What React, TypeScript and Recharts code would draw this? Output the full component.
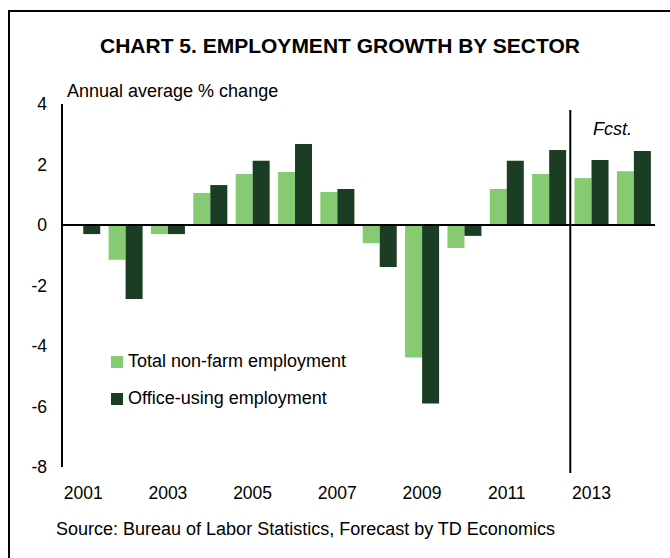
import { BarChart, Bar, XAxis, YAxis, ReferenceLine } from "recharts";

const years = ["2001", "2002", "2003", "2004", "2005", "2006", "2007", "2008", "2009", "2010", "2011", "2012", "2013", "2014"];
const totalNonFarm = [0.0, -1.15, -0.3, 1.06, 1.69, 1.75, 1.09, -0.6, -4.38, -0.76, 1.19, 1.69, 1.55, 1.78];
const officeUsing = [-0.3, -2.45, -0.3, 1.32, 2.12, 2.68, 1.19, -1.39, -5.9, -0.36, 2.12, 2.48, 2.15, 2.45];
const yTicks = [-8, -6, -4, -2, 0, 2, 4];

const LIGHT = "#86cb71";
const DARK = "#1a3d23";
const FONT = "'Liberation Sans', Arial, sans-serif";

const series = [
  { key: "total", name: "Total non-farm employment", color: LIGHT },
  { key: "office", name: "Office-using employment", color: DARK },
];

const data = years.map((year, i) => ({
  year,
  total: totalNonFarm[i],
  office: officeUsing[i],
}));

const App = () => {
  return (
    <div style={{ position: "absolute", left: 0, top: 0, width: 670, height: 558, overflow: "hidden", background: "#fff", fontFamily: FONT }}>
      {/* frame, cut off at right and bottom like the source image */}
      <div style={{ position: "absolute", left: 8, top: 10, width: 700, height: 600, border: "2px solid #000" }} />
      <div style={{ position: "absolute", left: 0, width: 680, top: 34, textAlign: "center", fontSize: 21, fontWeight: "bold", lineHeight: "24px" }}>
        CHART 5. EMPLOYMENT GROWTH BY SECTOR
      </div>
      <div style={{ position: "absolute", left: 67, top: 80, fontSize: 18, lineHeight: "22px" }}>Annual average % change</div>
      <div style={{ position: "absolute", left: 593, top: 118, fontSize: 18, fontStyle: "italic", lineHeight: "22px" }}>Fcst.</div>
      <div style={{ position: "absolute", left: 56, top: 518, fontSize: 18, lineHeight: "22px" }}>
        Source: Bureau of Labor Statistics, Forecast by TD Economics
      </div>
      <div style={{ position: "absolute", left: 0, top: 0 }}>
        <BarChart
          width={670}
          height={558}
          data={data}
          margin={{ top: 104, right: 15, bottom: 0, left: 0 }}
          barCategoryGap="10%"
          barGap={0}
        >
          <XAxis
            dataKey="year"
            axisLine={false}
            tickLine={false}
            tickSize={0}
            tickMargin={20}
            interval={1}
            height={91}
            tick={{ fill: "#000", fontSize: 17.5, fontFamily: FONT }}
          />
          <YAxis
            domain={[-8, 4]}
            ticks={yTicks}
            width={62}
            tickLine={false}
            tickSize={0}
            tickMargin={15}
            axisLine={{ stroke: "#000", strokeWidth: 2 }}
            tick={{ fill: "#000", fontSize: 17.5, fontFamily: FONT }}
          />
          {series.map((s) => (
            <Bar key={s.key} dataKey={s.key} name={s.name} fill={s.color} isAnimationActive={false} />
          ))}
          <ReferenceLine y={0} stroke="#000" strokeWidth={2} />
          <ReferenceLine
            segment={[{ x: "2012", y: 3.8 }, { x: "2012", y: -8.2 }]}
            position="end"
            ifOverflow="visible"
            stroke="#000"
            strokeWidth={2}
          />
        </BarChart>
      </div>
      {/* legend sits inside the plot, lower left */}
      <div style={{ position: "absolute", left: 111, top: 343, fontSize: 18, color: "#000" }}>
        {series.map((s) => (
          <div key={s.key} style={{ display: "flex", alignItems: "center", height: 37 }}>
            <span style={{ display: "inline-block", width: 12, height: 12, background: s.color, marginRight: 5 }} />
            <span>{s.name}</span>
          </div>
        ))}
      </div>
    </div>
  );
};

export default App;
